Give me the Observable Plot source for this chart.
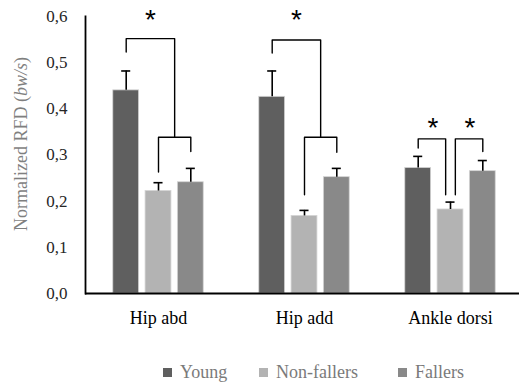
<!DOCTYPE html>
<html>
<head>
<meta charset="utf-8">
<script src="https://cdn.jsdelivr.net/npm/d3@7"></script>
<script src="https://cdn.jsdelivr.net/npm/@observablehq/plot@0.6"></script>
<style>
  html, body { margin: 0; padding: 0; background: #fff; }
  #wrap { position: relative; width: 519px; height: 387px; overflow: hidden; }
  #legend { position: absolute; left: 0; top: 360px; width: 519px; height: 24px;
            font-family: 'Liberation Serif'; font-size: 18px; color: #7a7a7a; }
  .item { position: absolute; top: 0; display: flex; align-items: center; height: 24px; white-space: nowrap; }
  .sw { width: 9px; height: 9px; margin-right: 8px; }
</style>
</head>
<body>
<div id="wrap"><div id="chart"></div><div id="legend"></div></div>
<script>
// ---- data ----
const groups = ["Hip abd", "Hip add", "Ankle dorsi"];
const series = ["Young", "Non-fallers", "Fallers"];
const colors = ["#5f5f5f", "#b3b3b3", "#898989"];
const young = [0.440, 0.426, 0.272];
const nonFallers = [0.222, 0.168, 0.182];
const fallers = [0.241, 0.252, 0.265];
const youngErr = [0.042, 0.056, 0.025];
const nonFallersErr = [0.018, 0.012, 0.016];
const fallersErr = [0.030, 0.019, 0.023];
const yTicks = [0, 0.1, 0.2, 0.3, 0.4, 0.5, 0.6];

// significance brackets: group, bar-index positions and values of each polyline
const bracketGroup = ["Hip abd", "Hip abd", "Hip add", "Hip add", "Ankle dorsi", "Ankle dorsi"];
const bracketX = [[0, 0, 1.5, 1.5], [1, 1, 2, 2], [0, 0, 1.5, 1.5], [1, 1, 2, 2], [0, 0, 0.85, 0.85], [1.15, 1.15, 2, 2]];
const bracketY = [[0.523, 0.552, 0.552, 0.3385], [0.263, 0.3385, 0.3385, 0.3076],
                  [0.521, 0.549, 0.549, 0.3385], [0.2138, 0.3385, 0.3385, 0.306],
                  [0.315, 0.335, 0.335, 0.2138], [0.2138, 0.335, 0.335, 0.3076]];
const starGroup = ["Hip abd", "Hip add", "Ankle dorsi", "Ankle dorsi"];
const starX = [0.75, 0.75, 0.46, 1.6];
const starY = [0.607, 0.607, 0.374, 0.374];

// ---- tables ----
const valuesBySeries = [young, nonFallers, fallers];
const errBySeries = [youngErr, nonFallersErr, fallersErr];
const rows = [];
groups.forEach((g, gi) => series.forEach((s, si) => {
  rows.push({group: g, series: s, idx: si, value: valuesBySeries[si][gi], err: errBySeries[si][gi]});
}));
const bracketPts = [];
bracketGroup.forEach((g, bi) => bracketX[bi].forEach((x, k) => {
  bracketPts.push({group: g, id: bi, x, y: bracketY[bi][k]});
}));
const stars = starGroup.map((g, i) => ({group: g, x: starX[i], y: starY[i]}));

const halfBar = 0.4, halfCap = 0.14;
const SERIF = "Liberation Serif";

const chart = Plot.plot({
  width: 519,
  height: 340,
  marginLeft: 85,
  marginRight: -4,
  marginTop: 16,
  marginBottom: 47,
  style: {fontFamily: SERIF, fontSize: "18px", background: "white", color: "black"},
  fx: {domain: groups, padding: 0, label: null},
  x: {domain: [-1.26, 3.26], axis: null},
  y: {domain: [0, 0.6], label: null},
  color: {domain: series, range: colors},
  marks: [
    Plot.rect(rows, {fx: "group", x1: d => d.idx - halfBar, x2: d => d.idx + halfBar, y1: 0, y2: "value",
                     fill: "series", stroke: "#d4d4d4", strokeWidth: 0.8}),
    Plot.ruleX(rows, {fx: "group", x: "idx", y1: "value", y2: d => d.value + d.err, stroke: "black", strokeWidth: 1.6}),
    Plot.ruleY(rows, {fx: "group", y: d => d.value + d.err, x1: d => d.idx - halfCap, x2: d => d.idx + halfCap, stroke: "black", strokeWidth: 1.6}),
    Plot.line(bracketPts, {fx: "group", x: "x", y: "y", z: "id", stroke: "black", strokeWidth: 1.4, curve: "linear"}),
    Plot.text(stars, {fx: "group", x: "x", y: "y", text: () => "*", fontFamily: "Liberation Sans",
                      fontSize: 28, dy: 7, fill: "black"}),
    Plot.ruleY([0], {stroke: "black", strokeWidth: 1.8}),
    Plot.frame({anchor: "left", facetAnchor: "left", stroke: "black", strokeWidth: 1.8}),
    Plot.axisY({ticks: yTicks, tickSize: 0, tickPadding: 18, fontSize: 17, fontFamily: SERIF, fill: "#262626",
                tickFormat: d => d.toFixed(1).replace(".", ","), label: null}),
    Plot.axisFx({anchor: "bottom", tickSize: 0, tickPadding: 18, fontSize: 18, fontFamily: SERIF, fill: "black", label: null})
  ]
});
document.getElementById("chart").appendChild(chart);

// y-axis title with italic unit
const title = d3.select(chart).append("text")
  .attr("transform", "translate(26.5,144) rotate(-90)")
  .attr("text-anchor", "middle")
  .attr("fill", "#7f7f7f")
  .attr("font-family", SERIF)
  .attr("font-size", 18);
title.append("tspan").text("Normalized RFD (");
title.append("tspan").attr("font-style", "italic").text("bw/s");
title.append("tspan").text(")");

// legend
const legendLeft = [163, 259, 398];
const legend = d3.select("#legend");
series.forEach((s, i) => {
  const it = legend.append("div").attr("class", "item").style("left", legendLeft[i] + "px");
  it.append("div").attr("class", "sw").style("background", colors[i]);
  it.append("span").text(s);
});
</script>
</body>
</html>
